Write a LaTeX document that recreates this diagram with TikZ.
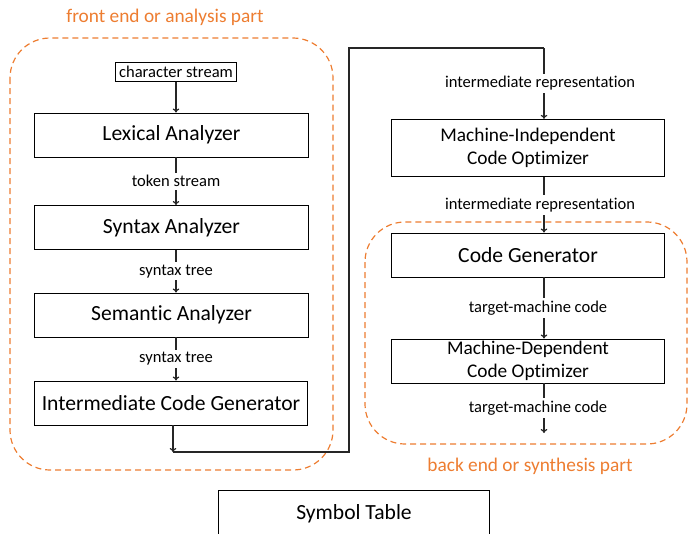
\documentclass[tikz,border=0pt]{standalone}
\usepackage{fontspec}
\setmainfont[Ligatures=NoCommon]{Carlito}
\usetikzlibrary{arrows.meta}
\definecolor{partorange}{RGB}{237,125,49}
\tikzset{
  stage/.style={draw, line width=0.7pt, minimum width=205pt, minimum height=33pt,
    align=center, inner sep=0pt, font=\fontsize{16.2}{17.5}\selectfont},
  twoline/.style={font=\fontsize{14.5}{17}\selectfont},
  flowlbl/.style={fill=white, inner sep=2pt, font=\fontsize{12.4}{14}\selectfont},
  flow/.style={line width=0.9pt, draw=black!85, -{To[length=3pt,width=5pt]}},
  part/.style={draw=partorange, line width=0.9pt, dash pattern=on 4.5pt off 3pt,
    rounded corners=30pt},
  partlbl/.style={text=partorange, font=\fontsize{14.5}{16}\selectfont},
}
\begin{document}
\begin{tikzpicture}[x=0.75pt, y=-0.75pt]
\clip (0,0) rectangle (688,533);

% analysis part
\draw[part] (10,38) rectangle (333,470);
\node[partlbl] (frontlbl) at (165,17) {front end or analysis part};

\coordinate (lx) at (176,0);
\node[draw, line width=0.7pt, inner sep=2.5pt, font=\fontsize{12.4}{14}\selectfont] (chars) at (176,72) {character stream};
\node[stage] (lex) at (171.5,135) {Lexical Analyzer};
\node[stage] (syn) at (171.5,227.5) {Syntax Analyzer};
\node[stage] (sem) at (171.5,315) {Semantic Analyzer};
\node[stage] (icg) at (171,403) {Intermediate Code Generator};

\draw[flow] (chars) -- (lex.north -| lx);
\draw[flow] (lex.south -| lx) -- node[flowlbl] {token stream} (syn.north -| lx);
\draw[flow] (syn.south -| lx) -- node[flowlbl] {syntax tree} (sem.north -| lx);
\draw[flow] (sem.south -| lx) -- node[flowlbl] {syntax tree} (icg.north -| lx);

% hand-over to the back end
\coordinate (turn) at (173,452);
\coordinate (up) at (349,452);
\coordinate (over) at (349,48);
\coordinate (rx) at (544,48);
\draw[flow] (icg.south -| turn) -- (turn);
\draw[line width=0.9pt, draw=black!85] (turn) -- (up) -- (over) -- (rx);

% synthesis part
\draw[part] (365,222) rectangle (687,444);
\node[partlbl] (backlbl) at (530,466) {back end or synthesis part};

\node[stage, twoline, minimum height=43pt] (mio) at (528,148) {Machine-Independent\\Code Optimizer};
\node[stage] (cg) at (528,255) {Code Generator};
\node[stage, twoline] (mdo) at (528,361) {Machine-Dependent\\Code Optimizer};
\coordinate (out) at (544,433);

\draw[flow] (rx) -- node[flowlbl, xshift=-3pt] {intermediate representation} (mio.north -| rx);
\draw[flow] (mio.south -| rx) -- node[flowlbl, xshift=-3pt] {intermediate representation} (cg.north -| rx);
\draw[flow] (cg.south -| rx) -- node[flowlbl, xshift=-4.5pt] {target-machine code} (mdo.north -| rx);
\draw[flow] (mdo.south -| rx) -- node[flowlbl, xshift=-4.5pt] {target-machine code} (out);

\node[stage, minimum width=203pt, minimum height=36pt] (symtab) at (354,514) {Symbol Table};

\end{tikzpicture}
\end{document}
